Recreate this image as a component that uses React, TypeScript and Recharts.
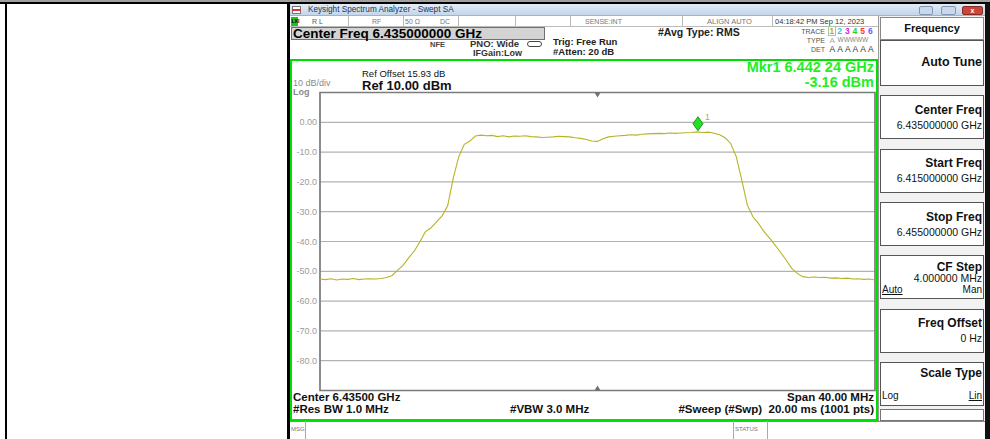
import React from "react";
import {
  LineChart,
  Line,
  XAxis,
  YAxis,
  CartesianGrid,
  ReferenceDot,
  ReferenceArea,
} from "recharts";

// Sweep settings
const START_GHZ = 6.415;
const STOP_GHZ = 6.455;
const STEP_GHZ = 0.0004;
const CENTER_GHZ = 6.435;

// Trace 1 (RMS average), one value per 0.4 MHz
const TRACE_DBM = [
  -52.6, -52.8, -52.5, -52.9, -52.6, -52.7, -52.4, -52.8, -52.6, -52.5,
  -52.6, -52.4, -52.1, -51.4, -49.6, -47.9, -45.4, -43.2, -40.1, -36.7,
  -35.4, -33.4, -31.4, -28.0, -18.8, -11.5, -7.4, -6.3, -4.6, -4.3,
  -4.5, -4.4, -4.8, -4.5, -4.9, -4.6, -4.7, -4.5, -4.8, -4.9,
  -5.1, -5.0, -4.9, -4.7, -4.8, -4.9, -5.2, -5.4, -5.8, -6.3,
  -6.4, -5.5, -4.9, -4.7, -4.5, -4.4, -4.2, -4.3, -4.0, -3.9,
  -3.8, -3.7, -3.8, -3.6, -3.7, -3.6, -3.5, -3.4, -3.2, -3.4,
  -3.3, -3.7, -4.2, -5.2, -7.1, -11.5, -19.4, -27.8, -31.7, -33.9,
  -36.7, -38.9, -41.2, -43.7, -46.2, -49.0, -50.7, -51.8, -52.1, -51.9,
  -52.1, -52.0, -52.3, -52.2, -52.4, -52.3, -52.6, -52.5, -52.7, -52.6,
  -52.9,
];
const FREQ_GHZ = TRACE_DBM.map((_, i) => +(START_GHZ + i * STEP_GHZ).toFixed(4));

const GRID_TICKS_GHZ = [
  6.415, 6.419, 6.423, 6.427, 6.431, 6.435, 6.439, 6.443, 6.447, 6.451, 6.455,
];
const DB_TICKS = [10, 0, -10, -20, -30, -40, -50, -60, -70, -80, -90];

const MARKER_GHZ = 6.44224;
const MARKER_DBM = -3.16;

const SOFTKEYS = [
  { title: "Center Freq", value: "6.435000000 GHz" },
  { title: "Start Freq", value: "6.415000000 GHz" },
  { title: "Stop Freq", value: "6.455000000 GHz" },
  { title: "CF Step", value: "4.000000 MHz" },
  { title: "Freq Offset", value: "0 Hz" },
  { title: "Scale Type", value: "" },
];
const SOFTKEY_TOPS = [95, 148.5, 202, 255, 308.5, 362];

const TRACE_NUMS = ["1", "2", "3", "4", "5", "6"];
const TRACE_COLORS = ["#e0a000", "#20d0e0", "#e020e0", "#20d020", "#ff3030", "#6a5cff"];

const FONT = '"Liberation Sans", Arial, Helvetica, sans-serif';
const TRACE_COLOR = "#b8b324";

const chartData = TRACE_DBM.map((dbm, i) => ({ f: FREQ_GHZ[i], dbm }));

type TxtProps = {
  x: number;
  y: number;
  size?: number;
  bold?: boolean;
  color?: string;
  right?: boolean;
  center?: boolean;
  underline?: boolean;
  children: React.ReactNode;
};

function Txt({ x, y, size = 9, bold = false, color = "#000", right, center, underline, children }: TxtProps) {
  const style: React.CSSProperties = {
    position: "absolute",
    top: y - size * 0.5,
    fontSize: size,
    lineHeight: `${size}px`,
    fontWeight: bold ? 700 : 400,
    color,
    whiteSpace: "nowrap",
    fontFamily: FONT,
    textDecoration: underline ? "underline" : undefined,
  };
  if (right) style.right = 990 - x;
  else if (center) {
    style.left = x;
    style.transform = "translateX(-50%)";
  } else style.left = x;
  return <div style={style}>{children}</div>;
}

function Box({ x, y, w, h, style }: { x: number; y: number; w: number; h: number; style?: React.CSSProperties }) {
  return (
    <div
      style={{ position: "absolute", left: x, top: y, width: w, height: h, boxSizing: "border-box", ...style }}
    />
  );
}

const markerShape = (p: any) => {
  const { cx, cy } = p;
  return (
    <g>
      <polygon
        points={`${cx},${cy - 15} ${cx + 5},${cy - 8} ${cx},${cy - 1} ${cx - 5},${cy - 8}`}
        fill="#22e022"
        stroke="#0b7a0b"
        strokeWidth={0.8}
      />
      <text x={cx + 7} y={cy - 12} fontSize={9} fill={TRACE_COLOR} fontFamily={FONT}>
        1
      </text>
    </g>
  );
};

const topTriangle = (p: any) => (
  <polygon points={`${p.cx - 3},${p.cy} ${p.cx + 3},${p.cy} ${p.cx},${p.cy + 5}`} fill="#707070" />
);
const bottomTriangle = (p: any) => (
  <polygon points={`${p.cx - 3},${p.cy} ${p.cx + 3},${p.cy} ${p.cx},${p.cy - 5}`} fill="#707070" />
);

const formatDb = (v: number) => (v === 10 || v === -90 ? "" : v === 0 ? "0.00" : v.toFixed(1));

export default function App() {
  return (
    <div
      style={{
        position: "fixed",
        left: 0,
        top: 0,
        width: 990,
        height: 439,
        background: "#fff",
        overflow: "hidden",
        fontFamily: FONT,
      }}
    >
      {/* document table frame */}
      <Box x={0} y={0} w={990} h={2} style={{ background: "#a0a0a0" }} />
      <Box x={0} y={2} w={990} h={2} style={{ background: "#000" }} />
      <Box x={5} y={3} w={2} h={436} style={{ background: "#000" }} />
      <Box x={287} y={3} w={3} h={436} style={{ background: "#000" }} />
      <Box x={985} y={3} w={5} h={436} style={{ background: "#111" }} />

      {/* title bar */}
      <Box
        x={290}
        y={4}
        w={695}
        h={12}
        style={{ background: "linear-gradient(#e2ecf7, #c4d6eb)", borderBottom: "1px solid #9fb4cc" }}
      />
      <Box x={292} y={6} w={9} h={8} style={{ background: "#fff", border: "1px solid #777" }} />
      <Box x={292} y={9} w={9} h={2} style={{ background: "#d23a3a" }} />
      <Txt x={308} y={10} size={8.2} color="#1f3350">
        Keysight Spectrum Analyzer - Swept SA
      </Txt>
      <Box x={919} y={6} w={14} h={9} style={{ background: "#c9d8ea", border: "1px solid #8098b5", borderRadius: 2 }} />
      <Box x={941} y={6} w={15} h={9} style={{ background: "#c9d8ea", border: "1px solid #8098b5", borderRadius: 2 }} />
      <Box x={962} y={6} w={21} h={9} style={{ background: "#c9473a", border: "1px solid #8a2a20", borderRadius: 2 }} />
      <Txt x={972.5} y={10.5} size={7} bold color="#fff" center>
        x
      </Txt>

      {/* status row */}
      <Box x={290} y={16} w={588} h={11} style={{ background: "#fff", borderBottom: "1px solid #bbb" }} />
      <Box x={291} y={17} w={7} h={9} style={{ background: "#1fc21f" }} />
      <Txt x={291.5} y={21.5} size={5} bold color="#000">
        LXI
      </Txt>
      {[348, 403, 458, 515, 570, 682, 772].map((x) => (
        <Box key={x} x={x} y={16} w={1} h={11} style={{ background: "#bbb" }} />
      ))}
      <Txt x={312} y={21.5} size={7} color="#555">R L</Txt>
      <Txt x={372} y={21.5} size={7} color="#777">RF</Txt>
      <Txt x={405} y={21.5} size={7} color="#777">50 Ω</Txt>
      <Txt x={440} y={21.5} size={7} color="#777">DC</Txt>
      <Txt x={585} y={21.5} size={7} color="#777">SENSE:INT</Txt>
      <Txt x={707} y={21.5} size={7.5} color="#777">ALIGN AUTO</Txt>
      <Txt x={775} y={21.5} size={7.5} color="#333">04:18:42 PM Sep 12, 2023</Txt>

      {/* center freq entry */}
      <Box x={291} y={27} w={254} h={13} style={{ background: "#d3d3d3", border: "1px solid #707070" }} />
      <Txt x={293} y={33.5} size={13.5} bold color="#000">
        Center Freq 6.435000000 GHz
      </Txt>
      <Txt x={430} y={44.5} size={7.5} bold color="#444">NFE</Txt>
      <Txt x={470} y={44} size={9.5} bold color="#333">PNO: Wide</Txt>
      <Box x={527} y={41} w={15} h={6} style={{ border: "1px solid #444", borderRadius: 3 }} />
      <Txt x={473} y={53.5} size={9} bold color="#333">IFGain:Low</Txt>
      <Txt x={553} y={41.5} size={9.5} bold color="#222">Trig: Free Run</Txt>
      <Txt x={553} y={51.5} size={9.5} bold color="#222">#Atten: 20 dB</Txt>
      <Txt x={658} y={32} size={10.5} bold color="#222">#Avg Type: RMS</Txt>

      {/* trace table */}
      <Txt x={825} y={31} size={7} color="#555" right>TRACE</Txt>
      <Txt x={825} y={40} size={7} color="#555" right>TYPE</Txt>
      <Txt x={825} y={49} size={7} color="#555" right>DET</Txt>
      <Box x={828} y={26} w={8} h={10} style={{ border: "1px solid #9ccf9c" }} />
      {TRACE_NUMS.map((n, i) => (
        <Txt key={n} x={829.5 + i * 7.7} y={31.5} size={8.5} bold color={TRACE_COLORS[i]}>
          {n}
        </Txt>
      ))}
      <Txt x={829.5} y={40.5} size={8} color="#aaa">A</Txt>
      <Txt x={837.5} y={40.5} size={6.5} color="#888">WWWWW</Txt>
      {TRACE_NUMS.map((n, i) => (
        <Txt key={"d" + n} x={829.5 + i * 7.7} y={49.5} size={8.5} color="#333">
          A
        </Txt>
      ))}

      {/* graticule frame */}
      <Box x={290} y={59} w={588} h={362} style={{ border: "2px solid #00e000", background: "#fff" }} />

      <div style={{ position: "absolute", left: 290, top: 85 }}>
        <LineChart
          width={587}
          height={315}
          data={chartData}
          margin={{ top: 7.5, right: 2, bottom: 9.5, left: 0 }}
        >
          <CartesianGrid stroke="#b2b2b2" strokeWidth={1.2} />
          <XAxis
            type="number"
            dataKey="f"
            domain={[START_GHZ, STOP_GHZ]}
            ticks={GRID_TICKS_GHZ}
            allowDataOverflow
            height={0}
            tick={false}
            axisLine={false}
            tickLine={false}
          />
          <YAxis
            type="number"
            domain={[-90, 10]}
            ticks={DB_TICKS}
            allowDataOverflow
            width={30}
            axisLine={false}
            tickLine={false}
            tickSize={0}
            tickMargin={3}
            tickFormatter={formatDb}
            tick={{ fontSize: 9, fill: "#9c9c9c", fontFamily: FONT }}
          />
          <ReferenceArea
            x1={START_GHZ}
            x2={STOP_GHZ}
            y1={-90}
            y2={10}
            fillOpacity={0}
            stroke="#7c7c7c"
            strokeWidth={1.6}
          />
          <ReferenceDot x={CENTER_GHZ} y={10} r={3} shape={topTriangle} />
          <ReferenceDot x={CENTER_GHZ} y={-90} r={3} shape={bottomTriangle} />
          <Line
            type="linear"
            dataKey="dbm"
            stroke={TRACE_COLOR}
            strokeWidth={1.1}
            dot={false}
            isAnimationActive={false}
          />
          <ReferenceDot x={MARKER_GHZ} y={MARKER_DBM} r={4} shape={markerShape} />
        </LineChart>
      </div>

      {/* annotations inside graticule */}
      <Txt x={874} y={67.5} size={14.5} bold color="#22ee22" right>
        Mkr1 6.442 24 GHz
      </Txt>
      <Txt x={874} y={82} size={14.5} bold color="#22ee22" right>
        -3.16 dBm
      </Txt>
      <Txt x={362} y={74} size={9.5} color="#111">Ref Offset 15.93 dB</Txt>
      <Txt x={362} y={85.5} size={13} bold color="#111">Ref 10.00 dBm</Txt>
      <Txt x={293} y={83.5} size={9} color="#8a8a8a">10 dB/div</Txt>
      <Txt x={293} y={92.5} size={9} bold color="#8a8a8a">Log</Txt>

      <Txt x={293} y={398} size={11.5} bold color="#111">Center 6.43500 GHz</Txt>
      <Txt x={874} y={398} size={11.5} bold color="#111" right>Span 40.00 MHz</Txt>
      <Txt x={293} y={410} size={11.5} bold color="#111">#Res BW 1.0 MHz</Txt>
      <Txt x={510} y={410} size={11.5} bold color="#111">#VBW 3.0 MHz</Txt>
      <Txt x={874} y={410} size={11.5} bold color="#111" right>
        #Sweep (#Swp)&nbsp;&nbsp;20.00 ms (1001 pts)
      </Txt>

      {/* message bar */}
      <Box x={290} y={421} w={695} h={18} style={{ background: "#fff", borderTop: "1px solid #888" }} />
      <Box x={305} y={421} w={1} h={18} style={{ background: "#aaa" }} />
      <Box x={733} y={421} w={1} h={18} style={{ background: "#aaa" }} />
      <Box x={767} y={421} w={1} h={18} style={{ background: "#aaa" }} />
      <Txt x={291} y={429} size={6} color="#777">MSG</Txt>
      <Txt x={735} y={429} size={6} color="#777">STATUS</Txt>

      {/* softkey panel */}
      <Box x={878} y={16} w={107} h={405} style={{ background: "#f2f2f2", borderLeft: "1px solid #999" }} />
      <Box x={880} y={17} w={104} h={23} style={{ background: "#fff", border: "1px solid #888" }} />
      <Txt x={932} y={28.5} size={11} bold color="#111" center>Frequency</Txt>
      <Box x={880} y={40} w={104} h={46} style={{ background: "#fff", border: "1.5px solid #555" }} />
      <Txt x={982} y={62.5} size={12.5} bold color="#111" right>Auto Tune</Txt>
      {SOFTKEYS.map((k, i) => {
        const top = SOFTKEY_TOPS[i];
        return (
          <React.Fragment key={k.title}>
            <Box x={880} y={top} w={104} h={44} style={{ background: "#fff", border: "1.5px solid #555" }} />
            {k.title === "CF Step" ? (
              <>
                <Txt x={982} y={top + 11.5} size={12} bold color="#111" right>{k.title}</Txt>
                <Txt x={982} y={top + 23.5} size={10.5} color="#111" right>{k.value}</Txt>
                <Txt x={882} y={top + 34.5} size={10} color="#111" underline>Auto</Txt>
                <Txt x={982} y={top + 34.5} size={10} color="#111" right>Man</Txt>
              </>
            ) : k.title === "Scale Type" ? (
              <>
                <Txt x={982} y={top + 11} size={12} bold color="#111" right>{k.title}</Txt>
                <Txt x={882} y={top + 34} size={10} color="#111">Log</Txt>
                <Txt x={982} y={top + 34} size={10} color="#111" right underline>Lin</Txt>
              </>
            ) : (
              <>
                <Txt x={982} y={top + 14.5} size={12} bold color="#111" right>{k.title}</Txt>
                <Txt x={982} y={top + 30} size={10.5} color="#111" right>{k.value}</Txt>
              </>
            )}
          </React.Fragment>
        );
      })}
      <Box x={880} y={409} w={104} h={12} style={{ background: "#fff", border: "1px solid #777" }} />
    </div>
  );
}
